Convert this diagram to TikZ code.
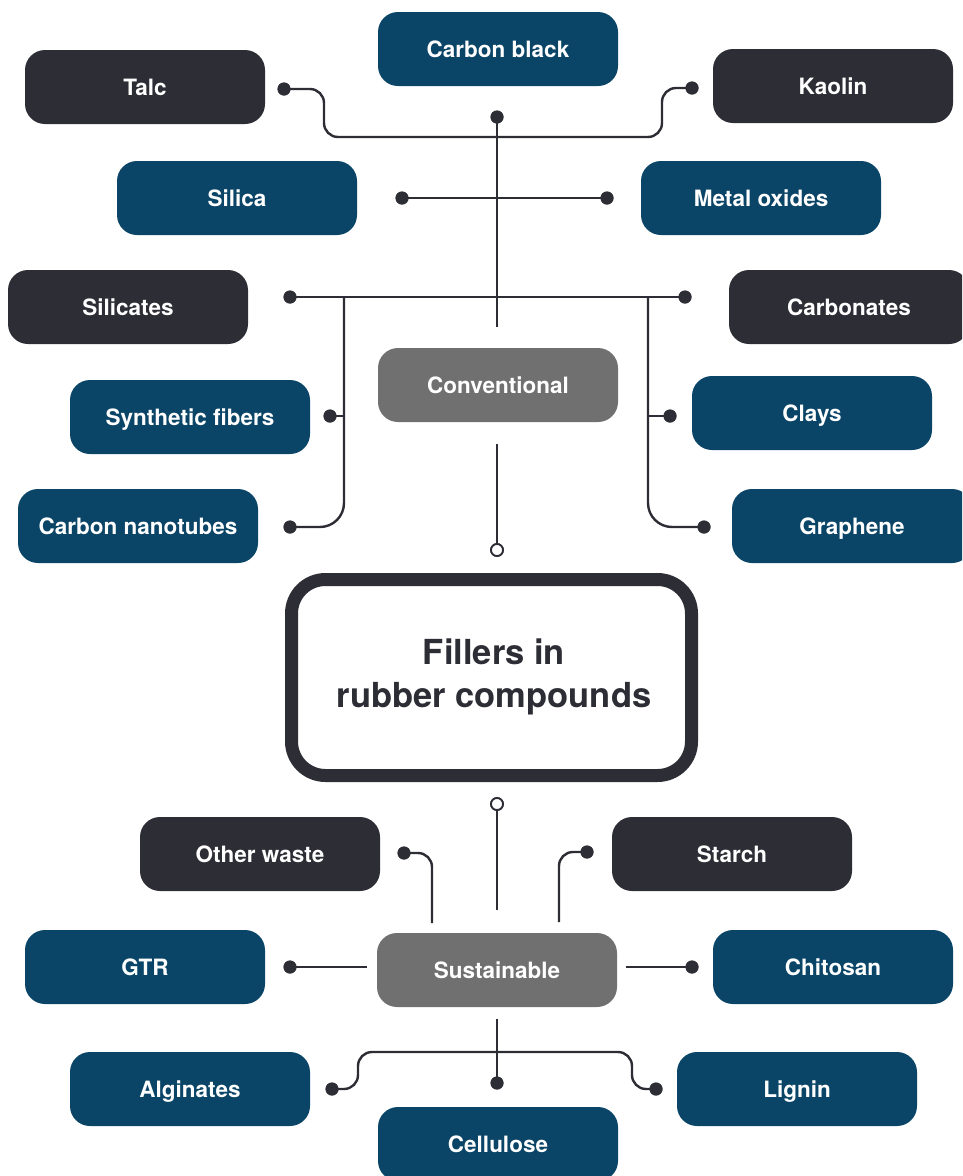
\documentclass[tikz,border=0pt]{standalone}
\usepackage{fontspec}
\setmainfont{TeX Gyre Heros}
\definecolor{cblue}{HTML}{0A4466}
\definecolor{cdark}{HTML}{2D2D35}
\definecolor{cgray}{HTML}{707070}
\tikzset{
  box/.style={rounded corners=20pt, minimum width=240pt, minimum height=74pt, text=white, font=\fontsize{22.5}{27}\selectfont\bfseries, inner sep=0pt, text height=20pt, text depth=4pt},
  bluebox/.style={box, fill=cblue},
  darkbox/.style={box, fill=cdark},
  graybox/.style={box, fill=cgray},
  conn/.style={draw=cdark, line width=2.4pt},
  dotc/.style={circle, fill=cdark, minimum size=13pt, inner sep=0pt},
  opendot/.style={circle, draw=cdark, fill=white, line width=1.8pt, minimum size=12pt, inner sep=0pt},
}
\begin{document}
\begin{tikzpicture}[x=1pt,y=-1pt]
\useasboundingbox (0,0) rectangle (962,1176);
\clip (0,0) rectangle (962,1176);
% boxes
\node[bluebox] (cb) at (498,49) {Carbon black};
\node[darkbox] (talc) at (145,87) {Talc};
\node[darkbox] (kaolin) at (833,86) {Kaolin};
\node[bluebox] (silica) at (237,198) {Silica};
\node[bluebox] (metal) at (761,198) {Metal oxides};
\node[darkbox] (silicates) at (128,307) {Silicates};
\node[darkbox] (carbonates) at (849,307) {Carbonates};
\node[graybox] (conv) at (498,385) {Conventional};
\node[bluebox] (synth) at (190,417) {Synthetic fibers};
\node[bluebox] (clays) at (812,413) {Clays};
\node[bluebox] (cnt) at (138,526) {Carbon nanotubes};
\node[bluebox] (graphene) at (852,526) {Graphene};
\draw[cdark, line width=13pt, fill=white, rounded corners=34pt] (291.5,579.5) rectangle (691.5,775.5);
\node[text=cdark, align=center, font=\fontsize{34.5}{43}\selectfont\bfseries] (main) at (494,677) {Fillers in\\rubber compounds};
\node[darkbox] (waste) at (260,854) {Other waste};
\node[darkbox] (starch) at (732,854) {Starch};
\node[bluebox] (gtr) at (145,967) {GTR};
\node[graybox] (sust) at (497,970) {Sustainable};
\node[bluebox] (chitosan) at (833,967) {Chitosan};
\node[bluebox] (alg) at (190,1089) {Alginates};
\node[bluebox] (lignin) at (797,1089) {Lignin};
\node[bluebox] (cell) at (498,1144) {Cellulose};
% dots
\node[dotc] (dcb) at (497,117) {};
\node[dotc] (dtalc) at (284,89) {};
\node[dotc] (dkaolin) at (692,88) {};
\node[dotc] (dsilica) at (402,198) {};
\node[dotc] (dmetal) at (607,198) {};
\node[dotc] (dsilicates) at (290,297) {};
\node[dotc] (dcarbonates) at (685,297) {};
\node[dotc] (dsynth) at (330,416) {};
\node[dotc] (dclays) at (670,416) {};
\node[dotc] (dcnt) at (290,527) {};
\node[dotc] (dgraphene) at (704,527) {};
\node[opendot] (oc1) at (497,550) {};
\node[opendot] (oc2) at (497,804) {};
\node[dotc] (dwaste) at (404,853) {};
\node[dotc] (dstarch) at (587,852) {};
\node[dotc] (dgtr) at (290,967) {};
\node[dotc] (dchitosan) at (692,967) {};
\node[dotc] (dalg) at (332,1089) {};
\node[dotc] (dcell) at (497,1083) {};
\node[dotc] (dlignin) at (656,1089) {};
% free ends
\coordinate (cvtop) at (497,327);
\coordinate (cvbot) at (497,444);
\coordinate (svtop) at (497,910);
\coordinate (wend) at (432,923);
\coordinate (send) at (559,922);
\coordinate (gend) at (367,967);
\coordinate (chend) at (626,967);
\coordinate (sbot) at (497,1019);
\coordinate (lv) at (344,297);
\coordinate (rv) at (648,297);
% connectors
\draw[conn] (dcb.center) -- (cvtop);
\draw[conn, rounded corners=14pt] (dtalc.center) -- (324,89) -- (324,137) -- (662,137) -- (662,88) -- (dkaolin.center);
\draw[conn] (dsilica.center) -- (dmetal.center);
\draw[conn] (dsilicates.center) -- (dcarbonates.center);
\draw[conn, rounded corners=24pt] (lv) -- (344,527) -- (dcnt.center);
\draw[conn, rounded corners=24pt] (rv) -- (648,527) -- (dgraphene.center);
\draw[conn] (dsynth.center) -- (344,416);
\draw[conn] (dclays.center) -- (648,416);
\draw[conn] (cvbot) -- (oc1.north);
\draw[conn] (oc2.south) -- (svtop);
\draw[conn, rounded corners=14pt] (dwaste.center) -- (432,853) -- (wend);
\draw[conn, rounded corners=14pt] (send) -- (559,852) -- (dstarch.center);
\draw[conn] (dgtr.center) -- (gend);
\draw[conn] (chend) -- (dchitosan.center);
\draw[conn] (sbot) -- (dcell.center);
\draw[conn, rounded corners=14pt] (dalg.center) -- (358,1089) -- (358,1052) -- (632,1052) -- (632,1089) -- (dlignin.center);
% redraw dots on top
\foreach \d in {dcb,dtalc,dkaolin,dsilica,dmetal,dsilicates,dcarbonates,dsynth,dclays,dcnt,dgraphene,dwaste,dstarch,dgtr,dchitosan,dalg,dcell,dlignin}{
  \fill[cdark] (\d.center) circle (6.5pt);
}
\foreach \d in {oc1,oc2}{
  \draw[cdark, fill=white, line width=1.8pt] (\d.center) circle (6pt);
}
\end{tikzpicture}
\end{document}
